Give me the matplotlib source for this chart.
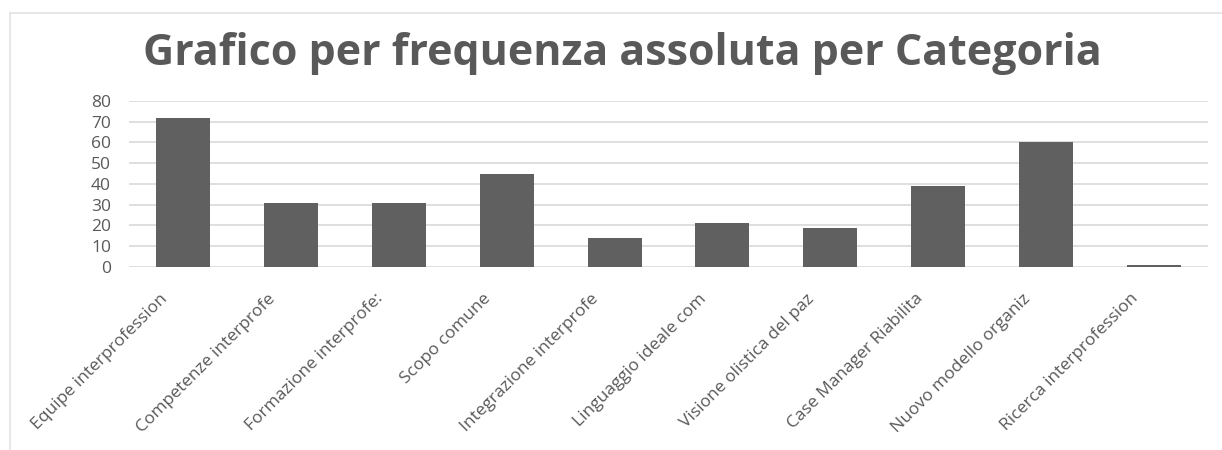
import matplotlib
matplotlib.use("Agg")
import matplotlib.pyplot as plt
from matplotlib.patches import Rectangle

# Categories as shown (labels truncated in the original chart)
categories = [
    "Equipe interprofession",
    "Competenze interprofe",
    "Formazione interprofe:",
    "Scopo comune",
    "Integrazione interprofe",
    "Linguaggio ideale com",
    "Visione olistica del paz",
    "Case Manager Riabilita",
    "Nuovo modello organiz",
    "Ricerca interprofession",
]
frequenze = [72, 31, 31, 45, 14, 21, 19, 39, 60, 1]
y_ticks = [0, 10, 20, 30, 40, 50, 60, 70, 80]

INK = "#595959"
BAR = "#606060"
GRID = "#d9d9d9"

plt.rcParams["font.family"] = ["Open Sans", "DejaVu Sans"]

fig = plt.figure(figsize=(12.22, 4.5), dpi=100)
# chart-area frame, cropped on the right and bottom like the original screenshot
fig.patches.append(Rectangle((10 / 1222, -0.1), 1.2, 1.1 - 13 / 450,
                             transform=fig.transFigure, fill=False,
                             edgecolor="#e3e3e3", linewidth=1.2))
ax = fig.add_axes([0.1056, 0.4067, 0.8829, 0.3689])

x = list(range(len(categories)))
ax.bar(x, frequenze, width=0.5, color=BAR, zorder=3)

ax.set_xlim(-0.5, len(categories) - 0.5)
ax.set_ylim(0, 80)
ax.set_yticks(y_ticks)
ax.set_yticklabels([str(v) for v in y_ticks], fontsize=12.5, color=INK)
ax.set_xticks(x)
ax.set_xticklabels([])
ax.tick_params(axis="both", length=0)
ax.tick_params(axis="y", pad=13)

# category labels: rotated, ending a little left of each bar centre
for i, name in zip(x, categories):
    ax.annotate(name, xy=(i, 0), xycoords=("data", "axes fraction"),
                xytext=(-17, -17), textcoords="offset points",
                rotation=45, rotation_mode="anchor", ha="right", va="top",
                fontsize=12.5, color=INK, annotation_clip=False)

for s in ax.spines.values():
    s.set_visible(False)
ax.grid(axis="y", color=GRID, linewidth=1.2, zorder=0)
ax.set_axisbelow(True)

fig.text(0.509, 0.882, "Grafico per frequenza assoluta per Categoria", ha="center",
         va="center", fontsize=31, fontweight="bold", color=INK)

fig.savefig("out.png", dpi=100)
